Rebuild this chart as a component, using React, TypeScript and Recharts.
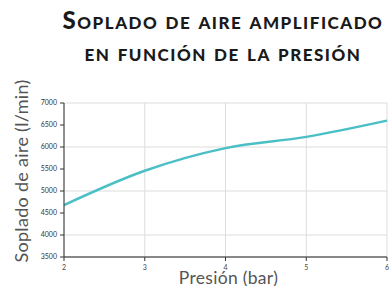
import { LineChart, Line, XAxis, YAxis, CartesianGrid } from "recharts";

const pressure = [2, 3, 4, 5, 6];
const airflow = [4680, 5460, 5975, 6230, 6600];
const yTicks = [3500, 4000, 4500, 5000, 5500, 6000, 6500, 7000];

const data = pressure.map((p, i) => ({ p, v: airflow[i] }));

const YLabel = () => {
  const cx = 21;
  const cy = 171;
  return (
    <text
      x={cx}
      y={cy}
      transform={`rotate(-90, ${cx}, ${cy})`}
      textAnchor="middle"
      dominantBaseline="central"
      fill="#555"
      fontSize={18}
      letterSpacing={0.3}
      fontFamily="Lato, sans-serif"
    >
      Soplado de aire (l/min)
    </text>
  );
};

export default function App() {
  return (
    <div style={{ position: "absolute", left: 0, top: 0, width: 391, height: 286, background: "#fff" }}>
      <div
        style={{
          position: "absolute",
          left: 55,
          width: 336,
          top: 4,
          textAlign: "center",
          fontFamily: "Lato, sans-serif",
          fontWeight: 900,
          fontVariant: "small-caps",
          color: "#1a1a1a",
          fontSize: 24,
          lineHeight: "32px",
          letterSpacing: 1.5,
          whiteSpace: "nowrap",
        }}
      >
        <div>Soplado de aire amplificado</div>
        <div>en función de la presión</div>
      </div>
      <LineChart
        width={391}
        height={286}
        data={data}
        margin={{ top: 103, right: 4, bottom: 0, left: 0 }}
      >
        <CartesianGrid stroke="#dcdcdc" strokeWidth={1} />
        <XAxis
          dataKey="p"
          type="number"
          domain={[2, 6]}
          ticks={pressure}
          height={29}
          tickSize={4}
          tickMargin={4}
          axisLine={{ stroke: "#888", strokeWidth: 2 }}
          tickLine={{ stroke: "#333" }}
          tick={{ fontSize: 7, fill: "#444", fontFamily: "Lato, sans-serif" }}
          label={{
            value: "Presión (bar)",
            position: "insideBottom",
            offset: 2,
            dx: 3,
            fill: "#555",
            fontSize: 17.5,
            letterSpacing: 0.3,
            fontFamily: "Lato, sans-serif",
          }}
        />
        <YAxis
          type="number"
          domain={[3500, 7000]}
          ticks={yTicks}
          width={64}
          tickSize={4}
          tickMargin={3}
          axisLine={{ stroke: "#333" }}
          tickLine={{ stroke: "#333" }}
          tick={{ fontSize: 7, fill: "#333", fontFamily: "Lato, sans-serif" }}
          label={<YLabel />}
        />
        <Line
          type="monotone"
          dataKey="v"
          stroke="#4bbfc6"
          strokeWidth={2.5}
          dot={false}
          isAnimationActive={false}
        />
      </LineChart>
    </div>
  );
}
